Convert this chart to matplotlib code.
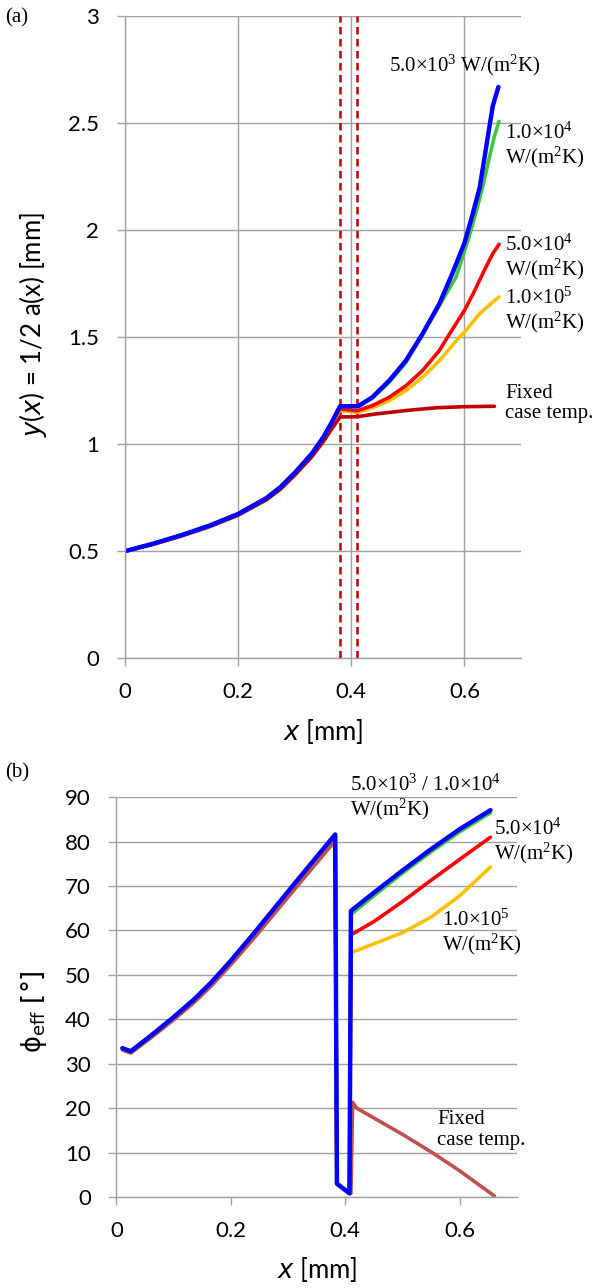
import matplotlib
matplotlib.use('Agg')
import matplotlib.pyplot as plt

plt.rcParams['font.family'] = ['Lato', 'DejaVu Sans']
plt.rcParams['mathtext.fontset'] = 'custom'
plt.rcParams['mathtext.rm'] = 'Liberation Serif'
plt.rcParams['mathtext.it'] = 'Liberation Serif:italic'

# ---- panel (a): y(x) = 1/2 a(x) ----
xa_front = [0.0, 0.05, 0.10, 0.15, 0.20, 0.25, 0.275, 0.30, 0.33, 0.35, 0.365, 0.38]
ya_front = [0.50, 0.535, 0.575, 0.62, 0.674, 0.748, 0.80, 0.866, 0.955, 1.03, 1.10, 1.175]
ya_front_fixed = [0.50, 0.532, 0.571, 0.615, 0.668, 0.740, 0.79, 0.855, 0.940, 1.01, 1.07, 1.127]

xa_blue = [0.41, 0.4136, 0.437, 0.467, 0.4964, 0.526, 0.5556, 0.579, 0.60, 0.615, 0.627, 0.6385, 0.65, 0.66]
ya_blue = [1.177, 1.18, 1.219, 1.297, 1.39, 1.516, 1.656, 1.80, 1.94, 2.08, 2.20, 2.39, 2.58, 2.669]
xa_green = [0.41, 0.4136, 0.437, 0.467, 0.4964, 0.523, 0.555, 0.585, 0.606, 0.62, 0.632, 0.644, 0.653, 0.661]
ya_green = [1.175, 1.178, 1.214, 1.289, 1.38, 1.50, 1.645, 1.78, 1.95, 2.08, 2.20, 2.34, 2.44, 2.508]
xa_red = [0.41, 0.437, 0.467, 0.4964, 0.526, 0.5556, 0.570, 0.585, 0.60, 0.6148, 0.638, 0.65, 0.661]
ya_red = [1.156, 1.18, 1.219, 1.273, 1.344, 1.4375, 1.50, 1.5625, 1.625, 1.70, 1.828, 1.89, 1.934]
xa_yellow = [0.41, 0.437, 0.467, 0.4964, 0.526, 0.5556, 0.591, 0.60, 0.6266, 0.65, 0.661]
ya_yellow = [1.148, 1.169, 1.203, 1.25, 1.3125, 1.39, 1.50, 1.523, 1.609, 1.664, 1.6875]
ya_mid_blue = [1.177]
ya_mid_red = [1.165]
ya_mid_yellow = [1.158]
xa_fixed = [0.41, 0.44, 0.50, 0.55, 0.60, 0.653]
ya_fixed = [1.128, 1.14, 1.158, 1.17, 1.175, 1.177]

dash_x = [0.38, 0.41]

# ---- panel (b): phi_eff ----
xb_front = [0.0104, 0.025, 0.06, 0.10, 0.135, 0.165, 0.20, 0.24, 0.28, 0.32, 0.3825, 0.3855, 0.4075]
yb_front = [33.5, 32.8, 36.3, 40.5, 44.4, 48.2, 53.2, 59.3, 65.6, 71.9, 81.6, 3.0, 0.8]
yb_front_fixed = [33.1, 32.4, 35.8, 39.9, 43.7, 47.4, 52.3, 58.2, 64.4, 70.6, 80.2, 3.0, 0.8]

xb_tail = [0.41, 0.45, 0.50, 0.55, 0.60, 0.654]
yb_blue = [64.4, 68.5, 73.5, 78.3, 82.8, 87.1]
yb_green = [63.6, 67.8, 72.9, 77.7, 82.2, 86.5]
yb_red = [59.0, 62.0, 66.5, 71.3, 76.0, 81.0]
yb_yellow = [55.0, 57.0, 59.5, 63.0, 67.8, 74.3]
xb_fixed = [0.41, 0.413, 0.42, 0.50, 0.552, 0.60, 0.661]
yb_fixed = [0.8, 21.3, 20.0, 14.1, 10.0, 5.9, 0.2]

C_BLUE = '#0000FF'
C_GREEN = '#3CC83C'
C_RED = '#FF0000'
C_YELLOW = '#FFC000'
C_DARKRED = '#C00000'
C_FIXED_B = '#C0504D'
GRID = '#A0A0A0'

serif = 'Liberation Serif'
ann_size = 15
title_size = 18.5

fig = plt.figure(figsize=(6.13, 12.88), dpi=100)
ax1 = fig.add_axes([0.204, 0.489, 0.646, 0.4985])
ax2 = fig.add_axes([0.190, 0.0707, 0.653, 0.3103])


def style_axis(ax, vgrid):
    for s in ['top', 'right']:
        ax.spines[s].set_visible(False)
    for s in ['left', 'bottom']:
        ax.spines[s].set_color(GRID)
        ax.spines[s].set_linewidth(1.0)
    ax.grid(axis='y', color=GRID, linewidth=1.0)
    if vgrid:
        ax.grid(axis='x', color=GRID, linewidth=1.0)
    ax.set_axisbelow(True)
    ax.tick_params(direction='out', length=6, width=1.0, color=GRID, labelsize=16)
    ax.tick_params(axis='x', pad=11)
    ax.tick_params(axis='y', pad=12.5)
    ax.set_xlim(0, 0.7)
    ax.set_xticks([0, 0.2, 0.4, 0.6])
    ax.set_xticklabels(['0', '0.2', '0.4', '0.6'])


def line(ax, x, y, color, lw=2.6):
    ax.plot(x, y, color=color, lw=lw, solid_capstyle='round', solid_joinstyle='round')


# panel (a)
style_axis(ax1, True)
ax1.set_ylim(0, 3)
ax1.set_yticks([0, 0.5, 1, 1.5, 2, 2.5, 3])
ax1.set_yticklabels(['0', '0.5', '1', '1.5', '2', '2.5', '3'])
for xd in dash_x:
    ax1.axvline(xd, color=C_DARKRED, lw=1.8, dashes=(3, 1.8))

line(ax1, xa_front + xa_fixed, ya_front_fixed + ya_fixed, C_DARKRED)
line(ax1, xa_front + xa_yellow, ya_front[:-1] + ya_mid_yellow + ya_yellow, C_YELLOW)
line(ax1, xa_front + xa_red, ya_front[:-1] + ya_mid_red + ya_red, C_RED)
line(ax1, xa_front + xa_green, ya_front + ya_green, C_GREEN)
line(ax1, xa_front + xa_blue, ya_front[:-1] + ya_mid_blue + ya_blue, C_BLUE, lw=3.2)

fig.text(323 / 613, 1 - 732 / 1288, '$x$ [mm]', fontsize=title_size,
         math_fontfamily='dejavusans', ha='center', va='center')
fig.text(33 / 613, 1 - 325 / 1288, '$y$($x$) = 1/2 a(x) [mm]', fontsize=title_size,
         math_fontfamily='dejavusans', rotation=90, ha='center', va='center')

ax1.text(0.467, 2.77, r'5.0×10$^3$ W/(m$^2$K)', family=serif, fontsize=ann_size,
         va='center', ha='left', clip_on=False)
ax1.text(0.672, 2.39, '1.0×10$^4$\nW/(m$^2$K)', family=serif, fontsize=ann_size,
         va='center', ha='left', linespacing=1.05, clip_on=False)
ax1.text(0.672, 1.87, '5.0×10$^4$\nW/(m$^2$K)', family=serif, fontsize=ann_size,
         va='center', ha='left', linespacing=1.05, clip_on=False)
ax1.text(0.672, 1.62, '1.0×10$^5$\nW/(m$^2$K)', family=serif, fontsize=ann_size,
         va='center', ha='left', linespacing=1.05, clip_on=False)
ax1.text(0.672, 1.19, 'Fixed\ncase temp.', family=serif, fontsize=ann_size,
         va='center', ha='left', linespacing=1.1, clip_on=False)

# panel (b)
style_axis(ax2, False)
ax2.set_ylim(0, 90)
ax2.set_yticks(range(0, 91, 10))

line(ax2, xb_front + xb_fixed, yb_front_fixed + yb_fixed, C_FIXED_B)
line(ax2, xb_front + xb_tail, yb_front + yb_yellow, C_YELLOW)
line(ax2, xb_front + xb_tail, yb_front + yb_red, C_RED)
line(ax2, xb_front + xb_tail, yb_front + yb_green, C_GREEN)
line(ax2, xb_front + xb_tail, yb_front + yb_blue, C_BLUE, lw=3.2)

fig.text(317 / 613, 1 - 1270 / 1288, '$x$ [mm]', fontsize=title_size,
         math_fontfamily='dejavusans', ha='center', va='center')
fig.text(34 / 613, 1 - 1012 / 1288, 'ϕ$_{\\mathrm{eff}}$ [°]', fontsize=title_size,
         family=['DejaVu Sans'], math_fontfamily='dejavusans',
         rotation=90, ha='center', va='center')

ax2.text(0.409, 89.8, '5.0×10$^3$ / 1.0×10$^4$\nW/(m$^2$K)', family=serif,
         fontsize=ann_size, va='center', ha='left', linespacing=1.05, clip_on=False)
ax2.text(0.661, 79.9, '5.0×10$^4$\nW/(m$^2$K)', family=serif, fontsize=ann_size,
         va='center', ha='left', linespacing=1.05, clip_on=False)
ax2.text(0.57, 59.4, '1.0×10$^5$\nW/(m$^2$K)', family=serif, fontsize=ann_size,
         va='center', ha='left', linespacing=1.05, clip_on=False)
ax2.text(0.561, 15.1, 'Fixed\ncase temp.', family=serif, fontsize=ann_size,
         va='center', ha='left', linespacing=1.1, clip_on=False)

fig.text(5 / 613, 1 - 18 / 1288, '(a)', family=serif, fontsize=15, va='center')
fig.text(5 / 613, 1 - 773 / 1288, '(b)', family=serif, fontsize=15, va='center')

fig.savefig('out.png', dpi=100)
